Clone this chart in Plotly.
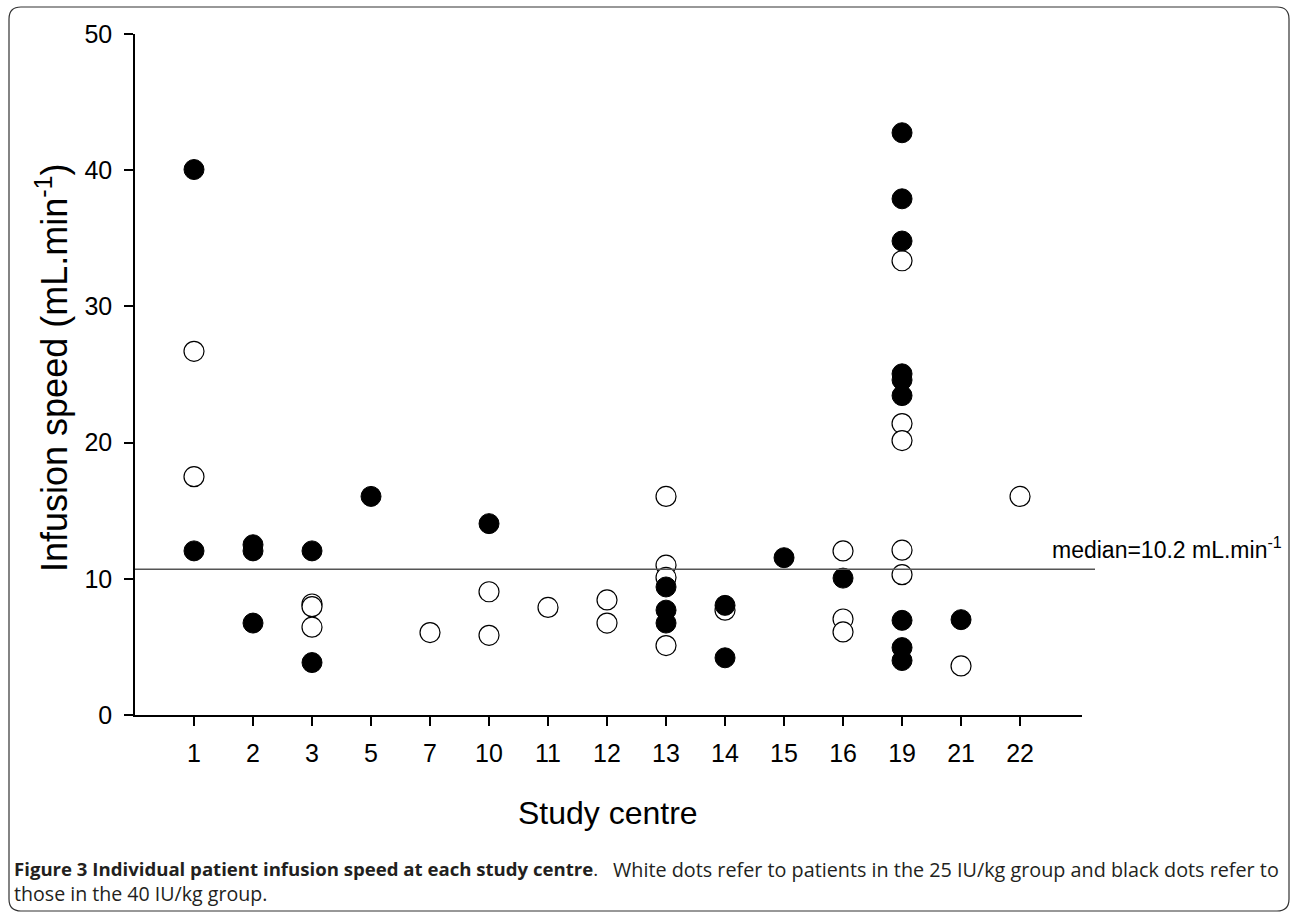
import plotly.graph_objects as go

# ---- data ----
centres = ["1", "2", "3", "5", "7", "10", "11", "12", "13", "14", "15", "16", "19", "21", "22"]

# 25 IU/kg group (white dots)
white_centre = ["1", "1", "3", "3", "3", "7", "10", "10", "11", "12", "12",
                "13", "13", "13", "13", "14", "16", "16", "16",
                "19", "19", "19", "19", "19", "21", "22"]
white_value = [26.7, 17.5, 8.15, 7.95, 6.45, 6.05, 9.05, 5.85, 7.9, 8.45, 6.75,
               16.05, 11.0, 10.1, 5.1, 7.7, 12.05, 7.05, 6.1,
               33.35, 21.4, 20.15, 12.1, 10.3, 3.6, 16.05]

# 40 IU/kg group (black dots)
black_centre = ["1", "1", "2", "2", "2", "3", "3", "5", "10",
                "13", "13", "13", "14", "14", "15", "16",
                "19", "19", "19", "19", "19", "19", "19", "19", "19", "21"]
black_value = [40.05, 12.05, 12.5, 12.05, 6.75, 12.05, 3.85, 16.05, 14.05,
               9.4, 7.7, 6.75, 8.05, 4.2, 11.55, 10.05,
               42.75, 37.9, 34.8, 25.05, 24.6, 23.45, 6.95, 4.95, 4.0, 7.0]

median_line = 10.7
median_label = "median=10.2 mL.min<sup>-1</sup>"

y_ticks = [0, 10, 20, 30, 40, 50]

caption_bold = "Figure 3 Individual patient infusion speed at each study centre"
caption_rest1 = "White dots refer to patients in the 25 IU/kg group and black dots refer to"
caption_rest2 = "those in the 40 IU/kg group."

# ---- layout geometry (pixels) ----
W, H = 1293, 914
L, R, T, B = 135, 1082, 34, 715
pw, ph = R - L, B - T


def px(x):
    return (x - L) / pw


def py(y):
    return (B - y) / ph


idx = {c: i for i, c in enumerate(centres)}

fig = go.Figure()
fig.add_trace(go.Scatter(
    x=[idx[c] for c in white_centre], y=white_value, mode="markers",
    marker=dict(size=20, color="white", line=dict(color="black", width=1.2)),
    cliponaxis=False, showlegend=False, name="25 IU/kg"))
fig.add_trace(go.Scatter(
    x=[idx[c] for c in black_centre], y=black_value, mode="markers",
    marker=dict(size=20, color="black", line=dict(color="black", width=1)),
    cliponaxis=False, showlegend=False, name="40 IU/kg"))

# median line (extends slightly past the x axis)
fig.add_shape(type="line", xref="paper", yref="y", x0=0, x1=px(1095),
              y0=median_line, y1=median_line, line=dict(color="#555555", width=1.3))

# rounded border around figure
x0b, x1b, y0b, y1b, r = 9, 1289, 7, 911, 12
path = (f"M {px(x0b + r)},{py(y0b)} L {px(x1b - r)},{py(y0b)} "
        f"Q {px(x1b)},{py(y0b)} {px(x1b)},{py(y0b + r)} "
        f"L {px(x1b)},{py(y1b - r)} Q {px(x1b)},{py(y1b)} {px(x1b - r)},{py(y1b)} "
        f"L {px(x0b + r)},{py(y1b)} Q {px(x0b)},{py(y1b)} {px(x0b)},{py(y1b - r)} "
        f"L {px(x0b)},{py(y0b + r)} Q {px(x0b)},{py(y0b)} {px(x0b + r)},{py(y0b)} Z")
fig.add_shape(type="path", xref="paper", yref="paper", path=path,
              line=dict(color="#333333", width=1.2), layer="below")

cap_font = dict(family="Open Sans", size=19.6, color="#231f20")
annotations = [
    dict(text=median_label, x=px(1050), y=py(548), xref="paper", yref="paper",
         xanchor="left", yanchor="middle", showarrow=False,
         font=dict(family="Arial, Liberation Sans", size=23, color="black")),
    dict(text="Study centre", x=px(608), y=py(813), xref="paper", yref="paper",
         xanchor="center", yanchor="middle", showarrow=False,
         font=dict(family="Arial, Liberation Sans", size=32, color="black")),
    dict(text="Infusion speed (mL.min<sup>-1</sup>)", x=px(52), y=py(368),
         xref="paper", yref="paper", xanchor="center", yanchor="middle",
         textangle=-90, showarrow=False,
         font=dict(family="Arial, Liberation Sans", size=36, color="black")),
    dict(text=(f"<span style='font-size:18.6px'><b>{caption_bold}</b>.</span>"
               f"<br>{caption_rest2}"),
         x=px(12), y=py(854), xref="paper", yref="paper",
         xanchor="left", yanchor="top", align="left", showarrow=False, font=cap_font),
    dict(text=caption_rest1, x=px(1281), y=py(854), xref="paper", yref="paper",
         xanchor="right", yanchor="top", showarrow=False,
         font=dict(family="Open Sans", size=19.8, color="#231f20")),
]

fig.update_layout(
    width=W, height=H,
    margin=dict(l=L, r=W - R, t=T, b=H - B, pad=0),
    paper_bgcolor="white", plot_bgcolor="white",
    annotations=annotations,
    font=dict(family="Arial, Liberation Sans", color="black"),
)
fig.update_xaxes(
    range=[-1, 15.05], tickvals=list(range(len(centres))), ticktext=centres,
    showgrid=False, zeroline=False, showline=True, linecolor="black", linewidth=1.5,
    ticks="outside", ticklen=9, tickwidth=1.5, tickcolor="black",
    ticklabelstandoff=6,
    tickfont=dict(size=25, family="Arial, Liberation Sans"), fixedrange=True,
)
fig.update_yaxes(
    range=[0, 50], tickvals=y_ticks,
    showgrid=False, zeroline=False, showline=True, linecolor="black", linewidth=1.5,
    ticks="outside", ticklen=9, tickwidth=1.5, tickcolor="black",
    ticklabelstandoff=7,
    tickfont=dict(size=25, family="Arial, Liberation Sans"), fixedrange=True,
)

fig.write_html("out.html", config={"displayModeBar": False},
               post_script="document.body.style.margin='0';")
